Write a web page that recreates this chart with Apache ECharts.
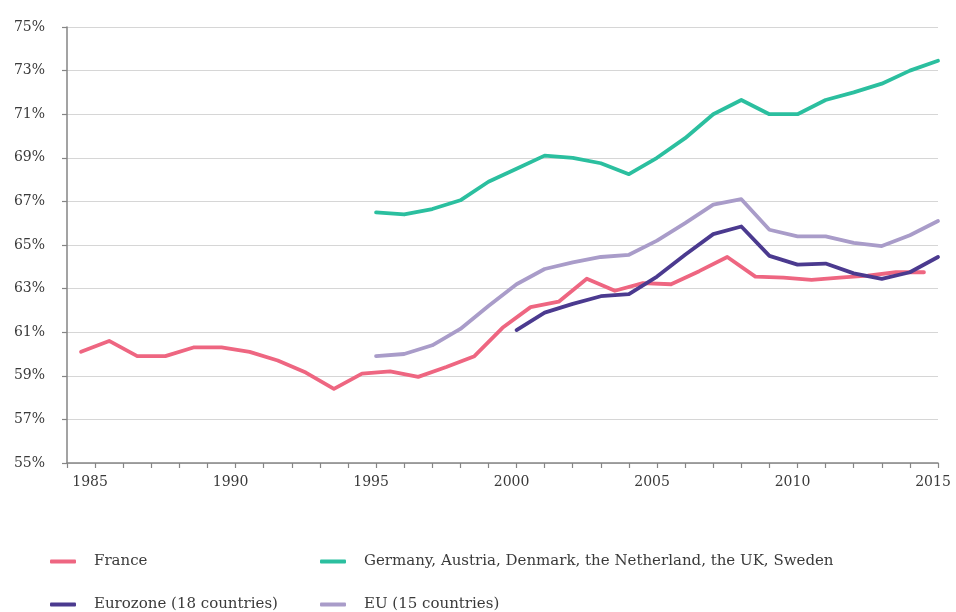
<!DOCTYPE html>
<html>
<head>
<meta charset="utf-8">
<script src="https://cdn.jsdelivr.net/npm/echarts@6/dist/echarts.min.js"></script>
<style>
html,body{margin:0;padding:0;background:#fff;}
#chart{width:956px;height:612px;}
</style>
</head>
<body>
<div id="chart"></div>
<script>
// ---- data ----
const seriesNames = [
  'France',
  'Germany, Austria, Denmark, the Netherland, the UK, Sweden',
  'Eurozone (18 countries)',
  'EU (15 countries)'
];
// France: annual values, drawn at mid-year in the original (half a year left of the tick)
const franceYears = [1985,1986,1987,1988,1989,1990,1991,1992,1993,1994,1995,1996,1997,1998,1999,2000,
  2001,2002,2003,2004,2005,2006,2007,2008,2009,2010,2011,2012,2013,2014,2015];
const franceValues = [60.1,60.6,59.9,59.9,60.3,60.3,60.1,59.7,59.15,58.4,59.1,59.2,58.95,59.4,59.9,61.2,
  62.15,62.4,63.45,62.9,63.25,63.2,63.8,64.45,63.55,63.5,63.4,63.5,63.6,63.75,63.75];

const groupYears = [1995,1996,1997,1998,1999,2000,2001,2002,2003,2004,2005,2006,2007,2008,2009,2010,2011,2012,2013,2014,2015];
const groupValues = [66.5,66.4,66.65,67.05,67.9,68.5,69.1,69.0,68.75,68.25,69.0,69.9,71.0,71.65,71.0,71.0,71.65,72.0,72.4,73.0,73.45];

const eurozoneYears = [2000,2001,2002,2003,2004,2005,2006,2007,2008,2009,2010,2011,2012,2013,2014,2015];
const eurozoneValues = [61.1,61.9,62.3,62.65,62.75,63.55,64.55,65.5,65.85,64.5,64.1,64.15,63.7,63.45,63.75,64.45];

const eu15Years = [1995,1996,1997,1998,1999,2000,2001,2002,2003,2004,2005,2006,2007,2008,2009,2010,2011,2012,2013,2014,2015];
const eu15Values = [59.9,60.0,60.4,61.15,62.2,63.2,63.9,64.2,64.45,64.55,65.2,66.0,66.85,67.1,65.7,65.4,65.4,65.1,64.95,65.45,66.1];

const xLabelYears = [1985,1990,1995,2000,2005,2010,2015];
const yTicks = [55,57,59,61,63,65,67,69,71,73,75];

// ---- styling ----
const colors = ['#EE6681','#2BBF9F','#4B3A8F','#A99CC9'];
const FONT = 'DejaVu Serif';
const TXT = '#3a3a3a';

const FRANCE_SHIFT = -0.5;
const pairs = (xs, ys, shift) => xs.map((x, i) => [x + (shift || 0), ys[i]]);

const mkSeries = (name, data, color) => ({
  name, type: 'line', data, showSymbol: false, symbol: 'none', smooth: false,
  lineStyle: { color, width: 3.8, cap: 'round', join: 'round' },
  itemStyle: { color }, emphasis: { disabled: true }
});

const legendPos = [
  { left: 50, top: 554 },
  { left: 320, top: 554 },
  { left: 50, top: 597 },
  { left: 320, top: 597 }
];

const legends = seriesNames.map((n, i) => ({
  data: [{ name: n, icon: 'roundRect' }],
  left: legendPos[i].left, top: legendPos[i].top, padding: 0,
  itemWidth: 26, itemHeight: 4,
  selectedMode: false,
  textStyle: { fontFamily: FONT, fontSize: 15, color: TXT, padding: [0, 0, 0, 13] }
}));

const chart = echarts.init(document.getElementById('chart'), null, { renderer: 'canvas' });
chart.setOption({
  animation: false,
  color: colors,
  legend: legends,
  grid: { left: 67, right: 18, top: 27, bottom: 149, containLabel: false },
  xAxis: {
    type: 'value', min: 1984, max: 2015, interval: 1,
    axisLine: { show: true, lineStyle: { color: '#858585', width: 1.5 } },
    axisTick: { show: true, length: 5, lineStyle: { color: '#858585', width: 1.2 } },
    splitLine: { show: false },
    axisLabel: {
      margin: 12, fontFamily: FONT, fontSize: 14, color: TXT, padding: [0, 10, 0, 0],
      formatter: v => xLabelYears.includes(Math.round(v)) && Math.abs(v - Math.round(v)) < 1e-6 ? String(Math.round(v)) : ''
    }
  },
  yAxis: {
    type: 'value', min: yTicks[0], max: yTicks[yTicks.length - 1], interval: 2,
    axisLine: { show: true, lineStyle: { color: '#858585', width: 1.5 } },
    axisTick: { show: true, length: 5, lineStyle: { color: '#858585', width: 1.2 } },
    splitLine: { show: true, lineStyle: { color: '#d6d6d6', width: 1.2 } },
    axisLabel: { margin: 22, fontFamily: FONT, fontSize: 14, color: TXT, formatter: v => v + '%' }
  },
  series: [
    mkSeries(seriesNames[0], pairs(franceYears, franceValues, FRANCE_SHIFT), colors[0]),
    mkSeries(seriesNames[1], pairs(groupYears, groupValues), colors[1]),
    mkSeries(seriesNames[2], pairs(eurozoneYears, eurozoneValues), colors[2]),
    mkSeries(seriesNames[3], pairs(eu15Years, eu15Values), colors[3])
  ]
});
</script>
</body>
</html>
